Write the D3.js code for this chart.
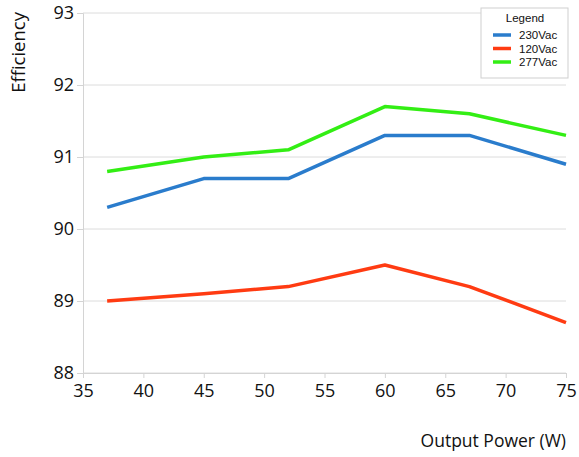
<!DOCTYPE html>
<html>
<head>
<meta charset="utf-8">
<script src="https://cdn.jsdelivr.net/npm/d3@7"></script>
<style>
  body { margin: 0; background: #fff; }
  svg text { font-family: "Open Sans", "DejaVu Sans", sans-serif; fill: #111; }
  svg text.leg { font-family: "Liberation Sans", Arial, sans-serif; }
</style>
</head>
<body>
<div id="chart"></div>
<script>
// output power (W)
var power = [37, 45, 52, 60, 67, 75];
// efficiency per input voltage
var eff230 = [90.3, 90.7, 90.7, 91.3, 91.3, 90.9];
var eff120 = [89.0, 89.1, 89.2, 89.5, 89.2, 88.7];
var eff277 = [90.8, 91.0, 91.1, 91.7, 91.6, 91.3];
var seriesNames = ["230Vac", "120Vac", "277Vac"];
var xTicks = [35, 40, 45, 50, 55, 60, 65, 70, 75];
var yTicks = [88, 89, 90, 91, 92, 93];

var colors = {
  '230Vac': '#2a7ccc',
  '120Vac': '#ff3b12',
  '277Vac': '#33ee14'
};

var margin = { top: 13, right: 13, bottom: 84, left: 83 };
var width = 579 - margin.left - margin.right;
var height = 457 - margin.top - margin.bottom;

var svg = d3.select("#chart").append("svg")
  .attr("width", 579)
  .attr("height", 457);

var g = svg.append("g")
  .attr("transform", "translate(" + margin.left + "," + margin.top + ")");

var x = d3.scaleLinear().domain([35, 75]).range([0, width]);
var y = d3.scaleLinear().domain([88, 93]).range([height, 0]);

// horizontal gridlines
g.selectAll(".grid")
  .data(yTicks)
  .enter().append("line")
  .attr("x1", 0)
  .attr("x2", width)
  .attr("y1", function(d) { return y(d); })
  .attr("y2", function(d) { return y(d); })
  .style("stroke", "#dcdcdc")
  .style("stroke-width", 1);

// x axis
var xAxis = g.append("g")
  .attr("transform", "translate(0," + height + ")")
  .call(d3.axisBottom(x).tickValues(xTicks).tickSize(5).tickPadding(6));
xAxis.selectAll("text").style("font-size", "18px");

// y axis
var yAxis = g.append("g")
  .call(d3.axisLeft(y).tickValues(yTicks).tickFormat(d3.format("d")).tickSize(6).tickPadding(3));
yAxis.selectAll("text").style("font-size", "18px");

[xAxis, yAxis].forEach(function(a) {
  a.select(".domain").style("stroke", "#d4d4d4");
  a.selectAll(".tick line").style("stroke", "#d4d4d4");
});

// axis titles
svg.append("text")
  .attr("transform", "rotate(-90)")
  .attr("x", -12)
  .attr("y", 25)
  .style("text-anchor", "end")
  .style("font-size", "18.5px")
  .text("Efficiency");

svg.append("text")
  .attr("x", 566)
  .attr("y", 447)
  .style("text-anchor", "end")
  .style("font-size", "17.5px")
  .text("Output Power (W)");

// lines
var data = [
  { name: "230Vac", values: eff230 },
  { name: "120Vac", values: eff120 },
  { name: "277Vac", values: eff277 }
];

var line = d3.line()
  .x(function(d, i) { return x(power[i]); })
  .y(function(d) { return y(d); });

g.selectAll(".series")
  .data(data)
  .enter().append("path")
  .attr("d", function(d) { return line(d.values); })
  .style("fill", "none")
  .style("stroke", function(d) { return colors[d.name]; })
  .style("stroke-width", 3.5)
  .style("stroke-linejoin", "round");

// legend
var legend = svg.append("g").attr("transform", "translate(481,8)");
legend.append("rect")
  .attr("width", 87)
  .attr("height", 70)
  .style("fill", "#fff")
  .style("stroke", "#cfcfcf");
legend.append("text")
  .attr("class", "leg")
  .attr("x", 44)
  .attr("y", 14)
  .style("text-anchor", "middle")
  .style("font-size", "11.5px")
  .text("Legend");

seriesNames.forEach(function(name, i) {
  var yy = 27 + i * 13.5;
  legend.append("line")
    .attr("x1", 12).attr("x2", 30)
    .attr("y1", yy).attr("y2", yy)
    .style("stroke", colors[name])
    .style("stroke-width", 3.5);
  legend.append("text")
    .attr("class", "leg")
    .attr("x", 38)
    .attr("y", yy + 4)
    .style("font-size", "11.5px")
    .text(name);
});
</script>
</body>
</html>
